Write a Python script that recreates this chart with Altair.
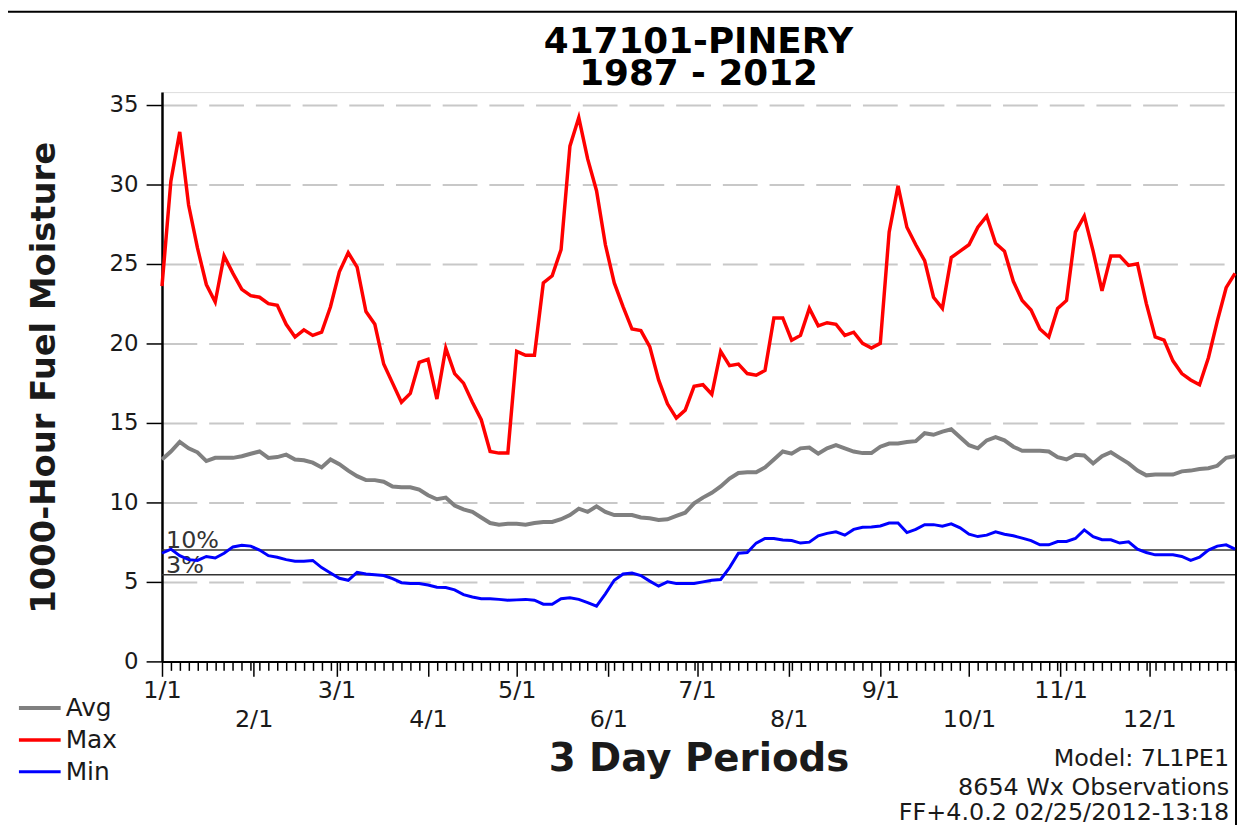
import altair as alt
import pandas as pd

periods = list(range(122))

avg_vals = [
    12.7, 13.2, 13.8, 13.4, 13.15, 12.6, 12.8, 12.8, 12.8, 12.9,
    13.06, 13.2, 12.8, 12.85, 13.0, 12.7, 12.65, 12.5, 12.2, 12.7,
    12.4, 12.0, 11.65, 11.4, 11.4, 11.3, 11.0, 10.95, 10.95, 10.8,
    10.45, 10.2, 10.3, 9.8, 9.56, 9.4, 9.05, 8.7, 8.6, 8.65,
    8.65, 8.6, 8.7, 8.77, 8.77, 8.94, 9.2, 9.6, 9.4, 9.75,
    9.4, 9.2, 9.2, 9.2, 9.05, 9.0, 8.9, 8.94, 9.15, 9.35,
    9.94, 10.3, 10.6, 11.0, 11.5, 11.85, 11.9, 11.9, 12.2, 12.7,
    13.2, 13.06, 13.4, 13.45, 13.06, 13.4, 13.6, 13.4, 13.2, 13.1,
    13.1, 13.5, 13.7, 13.7, 13.8, 13.85, 14.35, 14.25, 14.45, 14.6,
    14.1, 13.6, 13.4, 13.9, 14.1, 13.9, 13.5, 13.25, 13.25, 13.25,
    13.2, 12.85, 12.7, 13.0, 12.95, 12.45, 12.9, 13.15, 12.8, 12.45,
    12.0, 11.7, 11.75, 11.75, 11.75, 11.95, 12.0, 12.1, 12.15, 12.3,
    12.8, 12.9,
]

max_vals = [
    23.6, 30.2, 33.3, 28.7, 26.0, 23.7, 22.6, 25.5, 24.4, 23.4,
    23.0, 22.9, 22.5, 22.4, 21.2, 20.4, 20.85, 20.5, 20.7, 22.3,
    24.5, 25.7, 24.8, 22.0, 21.2, 18.7, 17.5, 16.3, 16.85, 18.8,
    19.0, 16.5, 19.7, 18.1, 17.5, 16.3, 15.2, 13.2, 13.1, 13.1,
    19.5, 19.25, 19.25, 23.8, 24.25, 25.9, 32.4, 34.2, 31.6, 29.6,
    26.2, 23.8, 22.3, 20.9, 20.8, 19.8, 17.7, 16.2, 15.3, 15.8,
    17.3, 17.4, 16.8, 19.5, 18.6, 18.7, 18.1, 18.0, 18.3, 21.6,
    21.6, 20.2, 20.5, 22.2, 21.1, 21.3, 21.2, 20.5, 20.7, 20.0,
    19.7, 20.0, 27.0, 29.9, 27.3, 26.2, 25.2, 22.9, 22.2, 25.4,
    25.8, 26.2, 27.3, 28.0, 26.3, 25.8, 23.9, 22.7, 22.1, 20.9,
    20.4, 22.2, 22.7, 27.0, 28.0, 25.8, 23.3, 25.5, 25.5, 24.9,
    25.0, 22.5, 20.4, 20.2, 18.9, 18.1, 17.7, 17.4, 19.1, 21.4,
    23.5, 24.4,
]

min_vals = [
    6.8, 7.06, 6.65, 6.4, 6.35, 6.6, 6.5, 6.8, 7.2, 7.3,
    7.25, 7.0, 6.65, 6.55, 6.4, 6.3, 6.3, 6.35, 5.9, 5.56,
    5.23, 5.1, 5.6, 5.5, 5.45, 5.4, 5.2, 4.95, 4.9, 4.9,
    4.8, 4.67, 4.65, 4.5, 4.2, 4.05, 3.94, 3.94, 3.9, 3.85,
    3.87, 3.9, 3.85, 3.6, 3.6, 3.94, 4.0, 3.9, 3.7, 3.48,
    4.25, 5.1, 5.5, 5.56, 5.4, 5.05, 4.73, 5.0, 4.9, 4.9,
    4.9, 5.0, 5.1, 5.15, 5.9, 6.8, 6.85, 7.44, 7.73, 7.73,
    7.63, 7.6, 7.44, 7.5, 7.9, 8.05, 8.15, 7.94, 8.3, 8.44,
    8.45, 8.52, 8.7, 8.7, 8.1, 8.3, 8.6, 8.6, 8.5, 8.65,
    8.4, 8.0, 7.85, 7.94, 8.15, 8.0, 7.9, 7.75, 7.6, 7.33,
    7.33, 7.54, 7.54, 7.73, 8.27, 7.85, 7.65, 7.65, 7.44, 7.52,
    7.06, 6.85, 6.7, 6.7, 6.7, 6.6, 6.35, 6.55, 7.0, 7.25,
    7.33, 7.06,
]

series_names = ["Avg", "Max", "Min"]
series_colors = ["#808080", "#ff0000", "#0000ff"]
series_widths = [4, 3, 3]

month_pos = [0, 10.333, 19.667, 30, 40, 50.333, 60.333, 70.667, 81, 91, 101.333, 111.333]
month_lbl = ["1/1", "2/1", "3/1", "4/1", "5/1", "6/1", "7/1", "8/1", "9/1", "10/1", "11/1", "12/1"]
y_ticks = [0, 5, 10, 15, 20, 25, 30, 35]

ref_vals = [7.0, 5.45]
ref_lbls = ["10%", "3%"]

title_lines = ["417101-PINERY", "1987 - 2012"]
x_title = "3 Day Periods"
y_title = "1000-Hour Fuel Moisture"
footer_lines = ["Model: 7L1PE1", "8654 Wx Observations", "FF+4.0.2 02/25/2012-13:18"]

FONT = "DejaVu Sans"
TXT = "#1a1a1a"

df = pd.DataFrame({
    "period": periods * 3,
    "value": avg_vals + max_vals + min_vals,
    "series": ["Avg"] * len(periods) + ["Max"] * len(periods) + ["Min"] * len(periods),
})

minor = [i for i in periods if not any(abs(i - m) < 0.01 for m in month_pos)]
tick_vals = sorted(minor + month_pos)
pos_str = "[" + ",".join(str(p) for p in month_pos) + "]"
lbl_str = "[" + ",".join("'%s'" % l for l in month_lbl) + "]"
row1_str = "[" + ",".join(str(p) for p in month_pos[0::2]) + "]"
label_expr = f"indexof({pos_str}, datum.value) >= 0 ? {lbl_str}[indexof({pos_str}, datum.value)] : ''"

x_scale = alt.Scale(domain=[0, 121], nice=False, zero=False)
y_scale = alt.Scale(domain=[0, 35.8], nice=False)

x_axis = alt.Axis(
    values=tick_vals,
    labelExpr=label_expr,
    labelOverlap=False,
    labelFlush=False,
    labelBound=False,
    labelFontSize=24,
    labelFont=FONT,
    labelColor=TXT,
    labelBaseline="top",
    labelPadding={"condition": {"test": f"indexof({row1_str}, datum.value) >= 0", "value": 2}, "value": 32},
    tickSize={"condition": {"test": f"indexof({pos_str}, datum.value) >= 0", "value": 15}, "value": 9},
    tickColor="black",
    tickWidth=1.5,
    domainColor="black",
    domainWidth=2,
    grid=False,
    title=x_title,
    titleFont=FONT,
    titleFontSize=39,
    titleFontWeight="bold",
    titleColor=TXT,
    titleX=540,
    titleY=110,
    titleAlign="center",
    titleBaseline="alphabetic",
)

y_axis = alt.Axis(
    values=y_ticks,
    labelFontSize=23,
    labelFont=FONT,
    labelColor=TXT,
    labelPadding=8,
    tickSize=16,
    tickColor="black",
    tickWidth=1.5,
    domainColor="black",
    domainWidth=2.5,
    grid=True,
    gridColor="#c8c8c8",
    gridDash=[35, 12],
    gridWidth=2,
    title=y_title,
    titleFont=FONT,
    titleFontSize=34,
    titleFontWeight="bold",
    titleColor=TXT,
    titleX=-118,
    titleY=287,
    titleAngle=270,
    titleAlign="center",
    titleBaseline="middle",
)

lines = alt.Chart(df).mark_line().encode(
    x=alt.X("period:Q", scale=x_scale, axis=x_axis),
    y=alt.Y("value:Q", scale=y_scale, axis=y_axis),
    color=alt.Color(
        "series:N",
        scale=alt.Scale(domain=series_names, range=series_colors),
        legend=alt.Legend(
            title=None,
            orient="none",
            legendX=-146,
            legendY=605,
            symbolType="stroke",
            symbolSize=1764,
            symbolStrokeWidth=3.5,
            labelFontSize=25,
            labelFont=FONT,
            labelColor=TXT,
            labelOffset=3,
            clipHeight=30,
            rowPadding=2,
        ),
    ),
    strokeWidth=alt.StrokeWidth(
        "series:N", scale=alt.Scale(domain=series_names, range=series_widths), legend=None
    ),
)

refdf = pd.DataFrame({"v": ref_vals, "lbl": ref_lbls})
rules = alt.Chart(refdf).mark_rule(color="#333333", strokeWidth=1.5).encode(
    y=alt.Y("v:Q", scale=y_scale, title=y_title)
)
ref_text = alt.Chart(refdf).mark_text(
    align="left", baseline="alphabetic", dx=4, dy=-2, fontSize=24, font=FONT, color="#333333"
).encode(
    x=alt.value(0),
    y=alt.Y("v:Q", scale=y_scale, title=y_title),
    text="lbl:N",
)

one = pd.DataFrame({"a": [0]})
frame = alt.Chart(one).mark_rect(fillOpacity=0, stroke="black", strokeWidth=2).encode(
    x=alt.value(-156), x2=alt.value(1081), y=alt.value(-81), y2=alt.value(745)
)

title_y = [-39, -7]
titles = [
    alt.Chart(one).mark_text(
        align="center", baseline="alphabetic", fontSize=36, font=FONT, fontWeight="bold", color="black"
    ).encode(x=alt.value(540), y=alt.value(yy), text=alt.value(t))
    for t, yy in zip(title_lines, title_y)
]

footer_y = [678, 707, 733]
footers = [
    alt.Chart(one).mark_text(
        align="right", baseline="alphabetic", fontSize=24, font=FONT, color=TXT
    ).encode(x=alt.value(1074), y=alt.value(yy), text=alt.value(t))
    for t, yy in zip(footer_lines, footer_y)
]

chart = alt.layer(frame, rules, ref_text, lines, *titles, *footers).properties(
    width=1080,
    height=573,
    padding={"left": 155, "top": 82, "right": 3, "bottom": 162},
    autosize=alt.AutoSizeParams(type="none"),
).configure_view(stroke=None).configure(background="white")

chart.save("out.html", embed_options={"renderer": "svg", "actions": False})
